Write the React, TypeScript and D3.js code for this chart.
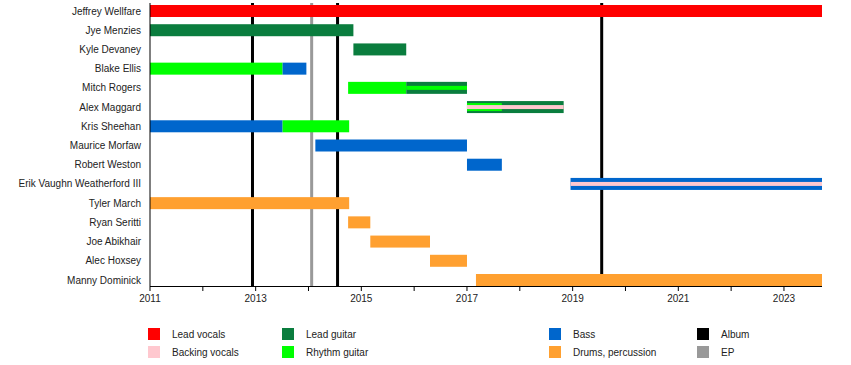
import * as d3 from "d3";

const members = [
  "Jeffrey Wellfare",
  "Jye Menzies",
  "Kyle Devaney",
  "Blake Ellis",
  "Mitch Rogers",
  "Alex Maggard",
  "Kris Sheehan",
  "Maurice Morfaw",
  "Robert Weston",
  "Erik Vaughn Weatherford III",
  "Tyler March",
  "Ryan Seritti",
  "Joe Abikhair",
  "Alec Hoxsey",
  "Manny Dominick",
];

const roles = ["Lead vocals", "Backing vocals", "Lead guitar", "Rhythm guitar", "Bass", "Drums, percussion"];
const eventKinds = ["Album", "EP"];

const START = 2011;
const END = 2023.72;

// [member, role, from, to, layer] layer 0 = full bar, 1 = wide stripe, 2 = thin stripe
const stints: [string, string, number, number, number][] = [
  ["Jeffrey Wellfare", "Lead vocals", 2011, END, 0],
  ["Jye Menzies", "Lead guitar", 2011, 2014.85, 0],
  ["Kyle Devaney", "Lead guitar", 2014.85, 2015.85, 0],
  ["Blake Ellis", "Rhythm guitar", 2011, 2013.51, 0],
  ["Blake Ellis", "Bass", 2013.51, 2013.96, 0],
  ["Mitch Rogers", "Rhythm guitar", 2014.75, 2015.85, 0],
  ["Mitch Rogers", "Lead guitar", 2015.85, 2017, 0],
  ["Mitch Rogers", "Rhythm guitar", 2015.85, 2017, 2],
  ["Alex Maggard", "Lead guitar", 2017, 2018.83, 0],
  ["Alex Maggard", "Rhythm guitar", 2017, 2017.66, 1],
  ["Alex Maggard", "Backing vocals", 2017, 2018.83, 2],
  ["Kris Sheehan", "Bass", 2011, 2013.51, 0],
  ["Kris Sheehan", "Rhythm guitar", 2013.51, 2014.77, 0],
  ["Maurice Morfaw", "Bass", 2014.13, 2017, 0],
  ["Robert Weston", "Bass", 2017, 2017.66, 0],
  ["Erik Vaughn Weatherford III", "Bass", 2018.96, END, 0],
  ["Erik Vaughn Weatherford III", "Backing vocals", 2018.96, END, 2],
  ["Tyler March", "Drums, percussion", 2011, 2014.77, 0],
  ["Ryan Seritti", "Drums, percussion", 2014.75, 2015.17, 0],
  ["Joe Abikhair", "Drums, percussion", 2015.17, 2016.3, 0],
  ["Alec Hoxsey", "Drums, percussion", 2016.3, 2017, 0],
  ["Manny Dominick", "Drums, percussion", 2017.17, END, 0],
];

const releases: [string, number][] = [
  ["Album", 2012.94],
  ["EP", 2014.06],
  ["Album", 2014.55],
  ["Album", 2019.55],
];

const yearTicks = d3.range(2011, 2024);

const COLORS: Record<string, string> = {
  "Lead vocals": "#ff0000",
  "Backing vocals": "#ffc8cf",
  "Lead guitar": "#0a7d3e",
  "Rhythm guitar": "#00ff00",
  Bass: "#0066cc",
  "Drums, percussion": "#ffa030",
  Album: "#000000",
  EP: "#999999",
};

const W = 851;
const H = 365;
const LEFT = 150;
const RIGHT = 822;
const AXIS_Y = 286;
const BAR_H = 12;
const FONT = "'Liberation Sans', Arial, Helvetica, sans-serif";

export default function App() {
  const x = d3.scaleLinear().domain([START, END]).range([LEFT, RIGHT]);
  const y = d3.scalePoint<string>().domain(members).range([11, 280]);

  const layerBox = (layer: number) =>
    layer === 0 ? { off: 0, h: BAR_H } : layer === 1 ? { off: 2, h: 8 } : { off: 4, h: 4 };

  const legendCols = [
    { x: 148, items: ["Lead vocals", "Backing vocals"] },
    { x: 282, items: ["Lead guitar", "Rhythm guitar"] },
    { x: 549, items: ["Bass", "Drums, percussion"] },
    { x: 697, items: eventKinds },
  ];

  return (
    <div style={{ position: "fixed", left: 0, top: 0, width: W, height: H, background: "#fff" }}>
      <svg width={W} height={H} style={{ display: "block" }} fontFamily={FONT}>
        {/* release lines behind bars */}
        {releases.map(([kind, t], i) => (
          <line key={i} x1={x(t)} x2={x(t)} y1={3} y2={AXIS_Y} stroke={COLORS[kind]} strokeWidth={3} />
        ))}

        {/* bars */}
        {stints.map(([m, role, a, b, layer], i) => {
          const lb = layerBox(layer);
          return (
            <rect
              key={i}
              x={x(a)}
              y={(y(m) as number) - BAR_H / 2 + lb.off}
              width={x(b) - x(a)}
              height={lb.h}
              fill={COLORS[role]}
            />
          );
        })}

        {/* member labels */}
        {members.map((m) => (
          <text key={m} x={141} y={y(m)} dy="0.35em" textAnchor="end" fontSize={10} fill="#222">
            {m}
          </text>
        ))}

        {/* axes */}
        <line x1={LEFT} x2={LEFT} y1={3} y2={AXIS_Y} stroke="#000" strokeWidth={1} />
        <line x1={LEFT} x2={RIGHT} y1={AXIS_Y + 0.5} y2={AXIS_Y + 0.5} stroke="#000" strokeWidth={1} />
        {yearTicks.map((t) => (
          <g key={t}>
            <line x1={x(t)} x2={x(t)} y1={AXIS_Y} y2={AXIS_Y + 5} stroke="#000" strokeWidth={1} />
            {(t - 2011) % 2 === 0 && (
              <text x={x(t)} y={AXIS_Y + 12} dy="0.35em" textAnchor="middle" fontSize={10} fill="#222">
                {t}
              </text>
            )}
          </g>
        ))}

        {/* legend */}
        {legendCols.map((col) =>
          col.items.map((item, j) => (
            <g key={item} transform={`translate(${col.x},${328 + j * 18})`}>
              <rect width={12} height={12} fill={COLORS[item]} />
              <text x={24} y={6} dy="0.35em" fontSize={10} fill="#222">
                {item}
              </text>
            </g>
          ))
        )}
      </svg>
    </div>
  );
}
